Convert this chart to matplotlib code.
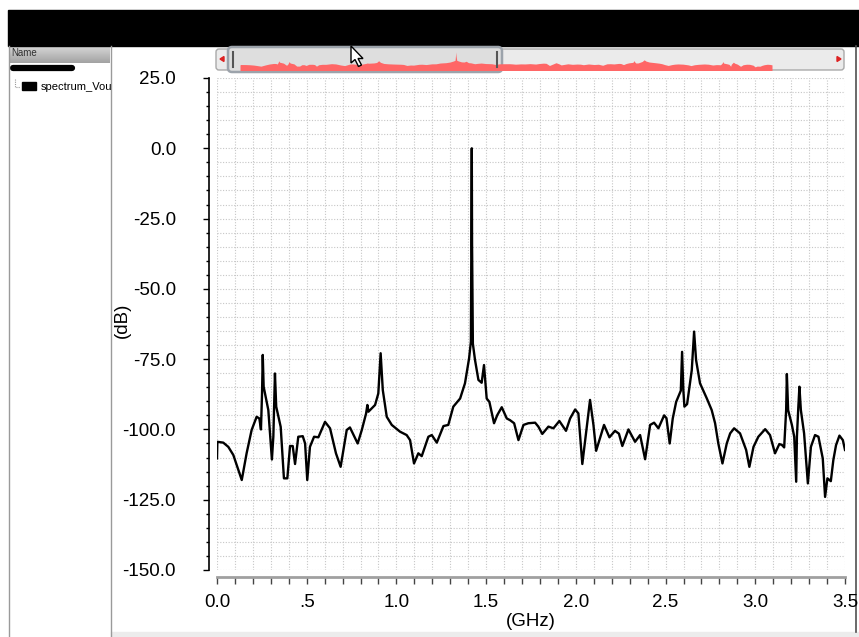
import numpy as np
import matplotlib
matplotlib.use('Agg')
import matplotlib.pyplot as plt
from matplotlib.patches import Rectangle, FancyBboxPatch, Polygon
from matplotlib.ticker import MultipleLocator

plt.rcParams['font.family'] = ['Liberation Sans', 'DejaVu Sans']

# spectrum trace (GHz, dB)
freq = [0.000, 0.002, 0.035, 0.063, 0.091, 0.138, 0.165, 0.193, 0.221, 0.236,
        0.245, 0.251, 0.255, 0.260, 0.286, 0.306, 0.314, 0.323, 0.330, 0.355,
        0.373, 0.392, 0.407, 0.422, 0.435, 0.453, 0.478, 0.491, 0.503, 0.518,
        0.541, 0.565, 0.602, 0.630, 0.663, 0.689, 0.723, 0.741, 0.784, 0.807,
        0.831, 0.838, 0.844, 0.881, 0.899, 0.912, 0.924, 0.946, 0.974, 1.020,
        1.057, 1.076, 1.098, 1.122, 1.141, 1.178, 1.197, 1.225, 1.262, 1.289,
        1.317, 1.355, 1.382, 1.405, 1.415, 1.420, 1.4215, 1.426, 1.438, 1.457,
        1.475, 1.488, 1.503, 1.518, 1.544, 1.562, 1.587, 1.615, 1.633, 1.656,
        1.680, 1.708, 1.735, 1.773, 1.791, 1.813, 1.847, 1.875, 1.908, 1.945,
        1.968, 1.996, 2.014, 2.036, 2.061, 2.079, 2.098, 2.113, 2.131, 2.157,
        2.187, 2.218, 2.240, 2.259, 2.293, 2.330, 2.358, 2.386, 2.414, 2.436,
        2.460, 2.492, 2.505, 2.523, 2.540, 2.559, 2.585, 2.592, 2.599, 2.605,
        2.620, 2.646, 2.659, 2.670, 2.692, 2.730, 2.757, 2.776, 2.794, 2.817,
        2.841, 2.860, 2.882, 2.915, 2.949, 2.967, 2.990, 3.017, 3.055, 3.082,
        3.110, 3.134, 3.148, 3.161, 3.172, 3.176, 3.183, 3.204, 3.217, 3.228,
        3.232, 3.240, 3.246, 3.254, 3.272, 3.293, 3.310, 3.333, 3.352, 3.376,
        3.389, 3.402, 3.421, 3.435, 3.450, 3.469, 3.488, 3.500]
db = [-110.3, -104.4, -104.7, -106.2, -109.1, -118.0, -108.5, -100.2, -95.5, -96.1,
      -100.0, -87.2, -73.5, -84.8, -93.1, -110.7, -102.6, -80.1, -91.9, -99.1,
      -117.4, -117.4, -105.9, -105.9, -112.3, -102.6, -102.4, -105.0, -118.0, -106.2,
      -102.6, -102.8, -97.3, -99.6, -108.5, -113.3, -100.2, -99.3, -105.0, -100.2,
      -94.3, -91.3, -93.7, -91.3, -87.2, -72.9, -86.0, -95.5, -98.4, -100.8,
      -102.0, -103.8, -112.1, -108.5, -109.5, -102.6, -102.0, -104.7, -98.8, -98.4,
      -91.9, -89.0, -83.6, -74.7, -68.8, 0.0, -34.0, -69.5, -75.3, -82.4,
      -83.4, -77.1, -89.0, -90.2, -97.8, -94.9, -92.1, -96.1, -96.7, -97.8,
      -103.8, -98.4, -97.8, -97.6, -99.0, -101.6, -99.0, -99.6, -97.0, -100.5,
      -96.1, -92.9, -94.3, -112.3, -99.0, -89.5, -98.4, -107.6, -103.8, -98.4,
      -102.8, -100.5, -101.5, -105.9, -100.0, -104.4, -102.0, -110.6, -98.4, -97.6,
      -99.6, -95.0, -96.0, -105.0, -96.1, -90.2, -86.2, -72.4, -86.0, -91.9,
      -91.0, -78.9, -65.2, -75.3, -83.6, -89.0, -93.1, -97.8, -105.0, -112.1,
      -105.0, -101.4, -99.6, -101.4, -107.3, -113.3, -106.2, -102.6, -99.9, -102.0,
      -108.5, -105.2, -105.5, -106.4, -93.1, -80.3, -93.1, -98.4, -102.6, -118.6,
      -102.6, -91.9, -84.8, -93.1, -101.4, -119.2, -106.2, -102.0, -102.6, -110.3,
      -124.0, -117.4, -118.4, -110.9, -105.6, -102.2, -103.8, -107.3]

xtick_vals = [0.0, 0.5, 1.0, 1.5, 2.0, 2.5, 3.0, 3.5]
xtick_labels = ['0.0', '.5', '1.0', '1.5', '2.0', '2.5', '3.0', '3.5']
ytick_vals = [25, 0, -25, -50, -75, -100, -125, -150]
ytick_labels = ['25.0', '0.0', '-25.0', '-50.0', '-75.0', '-100.0', '-125.0', '-150.0']
trace_name = 'spectrum_Vou'

W, H = 859, 637
fig = plt.figure(figsize=(W / 100, H / 100), dpi=100)
fig.patch.set_facecolor('white')

# window chrome drawn in pixel coordinates
bg = fig.add_axes([0, 0, 1, 1], zorder=0)
bg.add_patch(Rectangle((8, 10), W - 8, 36, color='black'))
grad = np.linspace(0.84, 0.64, 20).reshape(-1, 1)
bg.imshow(grad, extent=(9, 110, 63, 46), aspect='auto', cmap='gray', vmin=0, vmax=1)
bg.text(11, 53, 'Name', fontsize=7, color='#303030', va='center')
bg.plot([13, 72], [68, 68], color='black', lw=4.5, solid_capstyle='round')
bg.plot([15, 15, 20], [79, 87, 87], color='#999999', lw=0.8, ls=(0, (1, 1)))
bg.add_patch(Rectangle((22, 82), 14, 8, color='black'))
bg.text(41, 86.5, trace_name, fontsize=8, color='black', va='center')
bg.plot([8.5, 8.5], [46, H], color='#9a9a9a', lw=1)
bg.plot([110.5, 110.5], [46, H], color='#9a9a9a', lw=1)
bg.plot([856, 856], [46, 632], color='#505050', lw=1.2)
bg.add_patch(Rectangle((111, 632), W - 111, 5, color='#ececec'))

# scrollbar track and thumb
bg.add_patch(FancyBboxPatch((216, 49), 628, 21, boxstyle='round,pad=0,rounding_size=3',
                            fc='#ebebeb', ec='#a9a9a9', lw=1))
bg.add_patch(FancyBboxPatch((228, 47), 274, 25, boxstyle='round,pad=0,rounding_size=4',
                            fc='#dedede', ec='#9ca3ab', lw=1.8))
bg.add_patch(Polygon([[220, 59], [224, 56.5], [224, 61.5]], color='#dd2222'))
bg.add_patch(Polygon([[841, 59], [837, 56.5], [837, 61.5]], color='#dd2222'))
bg.set_xlim(0, W)
bg.set_ylim(H, 0)
bg.axis('off')

# overview of the trace inside the scrollbar
ov = fig.add_axes([240 / W, 1 - 70 / H, (772 - 240) / W, 18 / H], zorder=1)
ov.fill_between(freq, db, -200, color='#ff6666', lw=0)
ov.set_xlim(0, 3.5)
ov.set_ylim(-150, 0)
ov.axis('off')

fg = fig.add_axes([0, 0, 1, 1], zorder=3)
fg.plot([233, 233], [52, 67], color='#555555', lw=1.5)
fg.plot([497, 497], [52, 67], color='#555555', lw=1.5)
fg.add_patch(Polygon([[351, 46], [351, 63], [355, 59.5], [358.5, 66.5], [361.5, 65],
                      [358, 58.5], [363, 58.5]], fc='white', ec='black', lw=1))
fg.set_xlim(0, W)
fg.set_ylim(H, 0)
fg.axis('off')

# main plot
ax = fig.add_axes([217 / W, 1 - 570 / H, (845 - 217) / W, (570 - 78) / H], zorder=2)
ax.plot(freq, db, color='black', lw=1.7)
ax.set_xlim(0, 3.5)
ax.set_ylim(-150, 25)
ax.set_xticks(xtick_vals, xtick_labels)
ax.set_yticks(ytick_vals, ytick_labels)
ax.xaxis.set_minor_locator(MultipleLocator(0.1))
ax.yaxis.set_minor_locator(MultipleLocator(5))
ax.grid(which='both', color='#c6c6c6', linestyle=(0, (1, 1.5)), lw=0.8)
ax.set_axisbelow(True)

ax.spines['top'].set_visible(False)
ax.spines['right'].set_visible(False)
ax.spines['left'].set_position(('outward', 6))
ax.spines['left'].set_linewidth(1.2)
ax.spines['bottom'].set_position(('outward', 5))
ax.spines['bottom'].set_color('#a0a0a0')
ax.spines['bottom'].set_linewidth(2)

ax.tick_params(axis='y', which='major', length=4.5, width=1, pad=19, labelsize=13.5)
ax.tick_params(axis='y', which='minor', length=2.5, width=1)
ax.tick_params(axis='x', which='both', length=5, width=1, color='#444444',
               pad=7, labelsize=13.5)

fig.text(531 / W, 1 - 621 / H, '(GHz)', fontsize=13.5, ha='center', va='center')
fig.text(122 / W, 1 - 320 / H, '(dB)', fontsize=13.5, ha='center', va='center',
         rotation=90)

plt.savefig('out.png', dpi=100)
